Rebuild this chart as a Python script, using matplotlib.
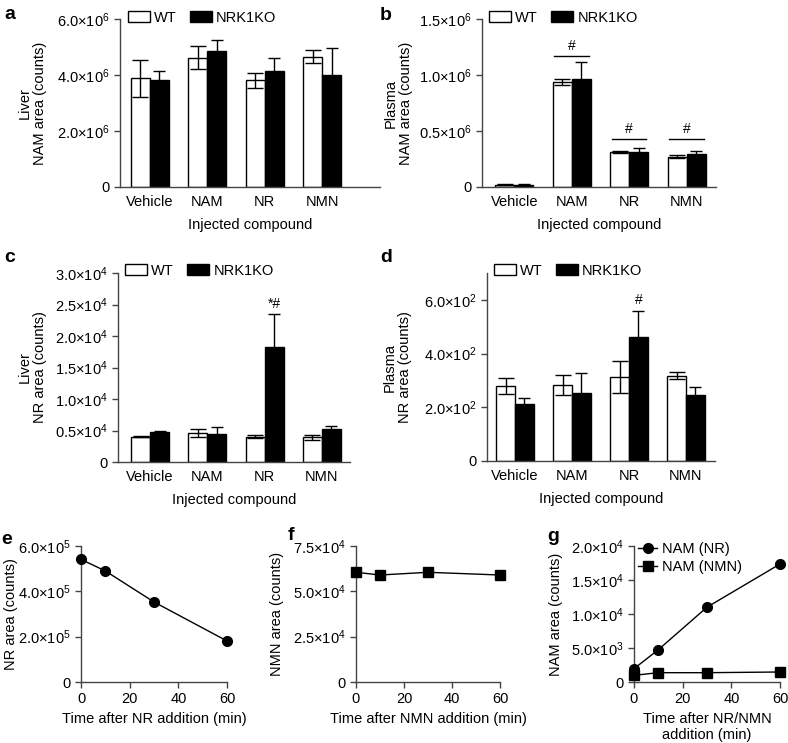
import numpy as np
import matplotlib
matplotlib.use("Agg")
import matplotlib.pyplot as plt

# ---- DATA ----
categories = ["Vehicle", "NAM", "NR", "NMN"]

a_wt, a_wt_err = [3.88e6, 4.62e6, 3.81e6, 4.65e6], [0.66e6, 0.41e6, 0.27e6, 0.23e6]
a_ko, a_ko_err = [3.81e6, 4.86e6, 4.13e6, 4.01e6], [0.34e6, 0.39e6, 0.47e6, 0.94e6]

b_wt, b_wt_err = [0.02e6, 0.937e6, 0.312e6, 0.272e6], [0.003e6, 0.03e6, 0.01e6, 0.017e6]
b_ko, b_ko_err = [0.02e6, 0.96e6, 0.313e6, 0.297e6], [0.003e6, 0.152e6, 0.035e6, 0.028e6]

c_wt, c_wt_err = [0.40e4, 0.46e4, 0.40e4, 0.39e4], [0.01e4, 0.065e4, 0.025e4, 0.035e4]
c_ko, c_ko_err = [0.47e4, 0.45e4, 1.83e4, 0.52e4], [0.025e4, 0.10e4, 0.52e4, 0.05e4]

d_wt, d_wt_err = [280, 283, 314, 317], [30, 37, 60, 13]
d_ko, d_ko_err = [212, 255, 462, 247], [24, 72, 97, 28]

time_min = [0, 10, 30, 60]
e_nr = [5.41e5, 4.9e5, 3.53e5, 1.81e5]
f_nmn = [6.05e4, 5.9e4, 6.05e4, 5.9e4]
g_nam_nr = [1.96e3, 4.75e3, 11.0e3, 17.35e3]
g_nam_nmn = [0.98e3, 1.37e3, 1.37e3, 1.47e3]

# ---- STYLE ----
plt.rcParams['font.family'] = ['Liberation Sans', 'DejaVu Sans']
plt.rcParams['mathtext.fontset'] = 'custom'
plt.rcParams['mathtext.rm'] = 'Liberation Sans'
plt.rcParams['mathtext.default'] = 'regular'
plt.rcParams['font.size'] = 10.5
SPINE = '#444444'

W, H = 788, 743
fig = plt.figure(figsize=(W / 100, H / 100), dpi=100)


def px_axes(l, t, r, b):
    ax = fig.add_axes([l / W, 1 - b / H, (r - l) / W, (b - t) / H])
    ax._px = (l, r)
    return ax


def sci(v, e):
    if v == 0:
        return "0"
    return f"{v / 10**e:.1f}×10$^{{{e}}}$"


def style(ax):
    for s in ['top', 'right']:
        ax.spines[s].set_visible(False)
    for s in ['left', 'bottom']:
        ax.spines[s].set_color(SPINE)
        ax.spines[s].set_linewidth(1.0)
    ax.tick_params(colors=SPINE, labelcolor='black', direction='out', length=4, width=1)


def place_ylabel(ax, text, x_px):
    # put the y label centre at a given figure pixel column
    l, r = ax._px
    ax.set_ylabel(text, va='center', linespacing=1.1)
    ax.yaxis.set_label_coords((x_px - l) / (r - l), 0.5)


def bar_panel(ax, wt, wt_err, ko, ko_err, ymax, yticks, exp, ylabel, ylab_x, xlim):
    x = np.arange(len(categories))
    w = 0.33
    ax.bar(x - w / 2, wt, w, color='white', edgecolor='black', linewidth=1, label='WT', zorder=2)
    ax.bar(x + w / 2, ko, w, color='black', edgecolor='black', linewidth=1, label='NRK1KO', zorder=2)
    ax.errorbar(x - w / 2, wt, yerr=wt_err, fmt='none', ecolor='black', elinewidth=1,
                capsize=6, capthick=1, zorder=3)
    ax.errorbar(x + w / 2, ko, yerr=ko_err, fmt='none', ecolor='black', elinewidth=1,
                capsize=4.5, capthick=1, zorder=3)
    style(ax)
    ax.set_xlim(*xlim)
    ax.set_ylim(0, ymax)
    ax.set_xticks(x)
    ax.set_xticklabels(categories)
    ax.tick_params(axis='x', length=0, pad=6)
    ax.set_yticks(yticks)
    ax.set_yticklabels([sci(v, exp) for v in yticks])
    place_ylabel(ax, ylabel, ylab_x)
    ax.set_xlabel("Injected compound", labelpad=6)
    ax.legend(ncol=2, loc='upper left', bbox_to_anchor=(0.03, 1.05), frameon=False,
              handlelength=1.5, handleheight=0.8, handletextpad=0.3, columnspacing=0.9,
              borderaxespad=0, borderpad=0)


# a
ax_a = px_axes(120, 19, 380, 187)
bar_panel(ax_a, a_wt, a_wt_err, a_ko, a_ko_err, 6e6, [0, 2e6, 4e6, 6e6], 6,
          "Liver\nNAM area (counts)", 32, (-0.52, 4.01))

# b
ax_b = px_axes(482, 19, 716, 187)
bar_panel(ax_b, b_wt, b_wt_err, b_ko, b_ko_err, 1.5e6, [0, 0.5e6, 1.0e6, 1.5e6], 6,
          "Plasma\nNAM area (counts)", 398, (-0.56, 3.51))
for gi, yl in [(1, 1.17e6), (2, 0.427e6), (3, 0.427e6)]:
    ax_b.plot([gi - 0.3, gi + 0.3], [yl, yl], color='black', lw=1)
    ax_b.text(gi, yl + 0.03e6, "#", ha='center', va='bottom', fontsize=10)

# c
ax_c = px_axes(118, 273, 350, 462)
bar_panel(ax_c, c_wt, c_wt_err, c_ko, c_ko_err, 3e4, [0, 0.5e4, 1e4, 1.5e4, 2e4, 2.5e4, 3e4], 4,
          "Liver\nNR area (counts)", 32, (-0.56, 3.49))
ax_c.text(2 + 0.165, 2.4e4, "*#", ha='center', va='bottom', fontsize=10)

# d
ax_d = px_axes(487, 273, 715, 461)
bar_panel(ax_d, d_wt, d_wt_err, d_ko, d_ko_err, 700, [0, 200, 400, 600], 2,
          "Plasma\nNR area (counts)", 397, (-0.49, 3.51))
ax_d.text(2 + 0.165, 575, "#", ha='center', va='bottom', fontsize=10)


def line_panel(ax, ymax, yticks, exp, ylabel, ylab_x, xlabel):
    style(ax)
    ax.set_xlim(0, 60)
    ax.set_ylim(0, ymax)
    ax.set_xticks([0, 20, 40, 60])
    ax.set_yticks(yticks)
    ax.set_yticklabels([sci(v, exp) for v in yticks])
    place_ylabel(ax, ylabel, ylab_x)
    ax.set_xlabel(xlabel, linespacing=1.2)


# e
ax_e = px_axes(81, 546, 227, 682)
ax_e.plot(time_min, e_nr, color='black', lw=1, marker='o', ms=7, clip_on=False, zorder=3)
line_panel(ax_e, 6e5, [0, 2e5, 4e5, 6e5], 5, "NR area (counts)", 11,
           "Time after NR addition (min)")

# f
ax_f = px_axes(356, 546, 500, 682)
ax_f.plot(time_min, f_nmn, color='black', lw=1, marker='s', ms=6.5, clip_on=False, zorder=3)
line_panel(ax_f, 7.5e4, [0, 2.5e4, 5e4, 7.5e4], 4, "NMN area (counts)", 277,
           "Time after NMN addition (min)")

# g
ax_g = px_axes(634, 546, 780, 682)
ax_g.plot(time_min, g_nam_nr, color='black', lw=1, marker='o', ms=7, clip_on=False, zorder=3,
          label='NAM (NR)')
ax_g.plot(time_min, g_nam_nmn, color='black', lw=1, marker='s', ms=6.5, clip_on=False, zorder=3,
          label='NAM (NMN)')
line_panel(ax_g, 2e4, [0, 5e3, 1e4, 1.5e4, 2e4], 4, "NAM area (counts)", 556,
           "Time after NR/NMN\naddition (min)")
ax_g.set_yticklabels(["0", "5.0×10$^{3}$", "1.0×10$^{4}$", "1.5×10$^{4}$", "2.0×10$^{4}$"])
ax_g.legend(loc='upper left', bbox_to_anchor=(0.03, 1.03), frameon=False, handlelength=1.3,
            handletextpad=0.3, borderaxespad=0, borderpad=0, labelspacing=0.3)

# panel letters (baseline positions in pixels)
for lab, px, py in [('a', 4, 19), ('b', 380, 20), ('c', 4, 262), ('d', 380, 262),
                    ('e', 1, 544), ('f', 288, 540), ('g', 547, 541)]:
    fig.text(px / W, 1 - py / H, lab, fontsize=14, fontweight='bold', va='baseline', ha='left')

fig.savefig("out.png", dpi=100)
